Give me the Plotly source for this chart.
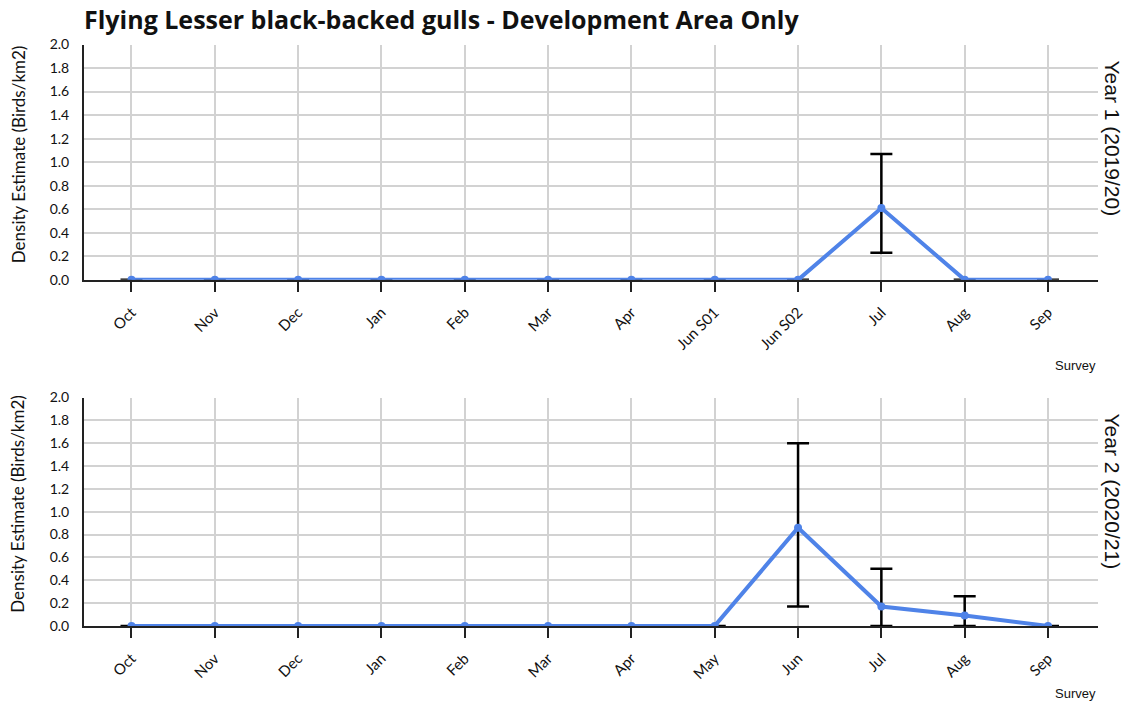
import plotly.graph_objects as go

# Survey months per year
surveys_y1 = ["Oct", "Nov", "Dec", "Jan", "Feb", "Mar", "Apr", "Jun S01", "Jun S02", "Jul", "Aug", "Sep"]
surveys_y2 = ["Oct", "Nov", "Dec", "Jan", "Feb", "Mar", "Apr", "May", "Jun", "Jul", "Aug", "Sep"]

# Density estimates (birds/km2) with confidence limits
density_y1 = [0, 0, 0, 0, 0, 0, 0, 0, 0, 0.61, 0, 0]
lower_y1 = [0, 0, 0, 0, 0, 0, 0, 0, 0, 0.23, 0, 0]
upper_y1 = [0, 0, 0, 0, 0, 0, 0, 0, 0, 1.07, 0, 0]

density_y2 = [0, 0, 0, 0, 0, 0, 0, 0, 0.86, 0.17, 0.09, 0]
lower_y2 = [0, 0, 0, 0, 0, 0, 0, 0, 0.17, 0.0, 0.0, 0]
upper_y2 = [0, 0, 0, 0, 0, 0, 0, 0, 1.60, 0.50, 0.26, 0]

y_ticks = [0.0, 0.2, 0.4, 0.6, 0.8, 1.0, 1.2, 1.4, 1.6, 1.8, 2.0]

W, H = 1132, 708
LINE = "#4f83e8"
SANS = "Lato, Open Sans, sans-serif"
TICK_FONT = dict(family=SANS, size=15, color="#111111")

# the page renders the figure 8 px down and slightly compressed vertically
Y_OFF, Y_SCALE = 8.4, 0.9787


def px_x(p):
    return p / W


def px_y(p):
    return 1 - ((p - Y_OFF) / Y_SCALE) / H


fig = go.Figure()

panels = [
    (surveys_y1, density_y1, lower_y1, upper_y1, (44, 280), "Year 1 (2019/20)", 366),
    (surveys_y2, density_y2, lower_y2, upper_y2, (398, 627), "Year 2 (2020/21)", 695),
]

for i, (cats, vals, lo, hi, (top, bottom), year_label, survey_y) in enumerate(panels):
    sfx = "" if i == 0 else "2"
    idx = list(range(len(cats)))
    plus = [h - v for h, v in zip(hi, vals)]
    minus = [v - l for v, l in zip(vals, lo)]
    fig.add_trace(go.Scatter(
        x=idx, y=vals, xaxis="x" + sfx, yaxis="y" + sfx, mode="lines+markers",
        line=dict(color=LINE, width=4),
        marker=dict(color=LINE, size=8),
        error_y=dict(type="data", symmetric=False, array=plus, arrayminus=minus,
                     color="black", thickness=2.5, width=11),
        showlegend=False, hoverinfo="skip",
    ))

    fig.layout["xaxis" + sfx] = dict(
        domain=[px_x(84), px_x(1098)],
        anchor="y" + sfx,
        range=[-0.57, 11.6],
        tickmode="array", tickvals=idx, ticktext=cats,
        tickangle=-45, tickfont=TICK_FONT, ticklabelstandoff=6,
        ticks="outside", ticklen=10, tickwidth=2, tickcolor="#222222",
        showgrid=True, gridcolor="#d2d2d2", gridwidth=1.5,
        showline=True, linecolor="#222222", linewidth=2,
        zeroline=False, fixedrange=True,
    )
    fig.layout["yaxis" + sfx] = dict(
        domain=[px_y(bottom), px_y(top)],
        anchor="x" + sfx,
        range=[0, 2.0],
        tickmode="array", tickvals=y_ticks,
        ticktext=[f"{t:.1f}" for t in y_ticks],
        tickfont=dict(family=SANS, size=14, color="#111111"),
        ticks="", ticklabelstandoff=10,
        showgrid=True, gridcolor="#d2d2d2", gridwidth=1.5,
        showline=True, linecolor="#222222", linewidth=2,
        zeroline=False, fixedrange=True,
    )

    mid = (top + bottom) / 2
    # Y axis title
    fig.add_annotation(
        text="Density Estimate (Birds/km2)", xref="paper", yref="paper",
        x=px_x(18), y=px_y(mid - 8), textangle=-90, showarrow=False,
        font=dict(family=SANS, size=17, color="#111111"),
        xanchor="center", yanchor="middle",
    )
    # Year label on the right
    fig.add_annotation(
        text=year_label, xref="paper", yref="paper",
        x=px_x(1113), y=px_y(top + 14), textangle=90, showarrow=False,
        font=dict(family="Liberation Sans Narrow, Liberation Sans, Arial, sans-serif",
                  size=21, color="#111111"),
        xanchor="center", yanchor="top",
    )
    # X axis title
    fig.add_annotation(
        text="Survey", xref="paper", yref="paper",
        x=px_x(1098), y=px_y(survey_y), showarrow=False,
        font=dict(family="Liberation Sans, Arial, sans-serif", size=13, color="#111111"),
        xanchor="right", yanchor="middle",
    )

fig.add_annotation(
    text="<b>Flying Lesser black-backed gulls - Development Area Only</b>",
    xref="paper", yref="paper", x=px_x(82), y=px_y(18), showarrow=False,
    font=dict(family="Open Sans, Lato, sans-serif", size=25, color="#111111"),
    xanchor="left", yanchor="middle",
)

fig.update_layout(
    width=W, height=H,
    margin=dict(l=0, r=0, t=0, b=0),
    paper_bgcolor="white", plot_bgcolor="white",
)

fig.write_html("out.html")
